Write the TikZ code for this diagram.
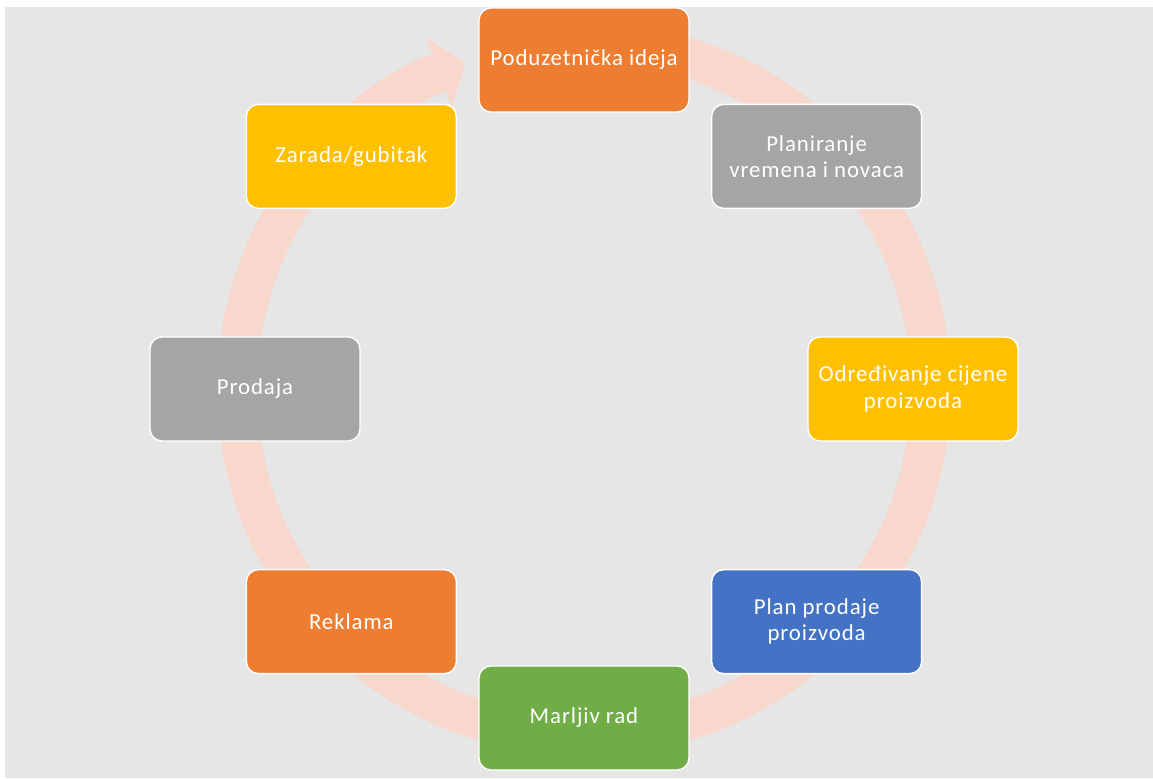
\documentclass[tikz,border=0pt]{standalone}
\usepackage{fontspec}
\setmainfont{Carlito}[LetterSpace=4]
\usetikzlibrary{arrows.meta}
\definecolor{bgGrey}{HTML}{E6E6E6}
\definecolor{cycleArc}{HTML}{F8D7CC}
\definecolor{accOrange}{HTML}{ED7D31}
\definecolor{accGrey}{HTML}{A5A5A5}
\definecolor{accYellow}{HTML}{FFC000}
\definecolor{accBlue}{HTML}{4472C4}
\definecolor{accGreen}{HTML}{70AD47}
\tikzset{
  stagebox/.style={draw=white,line width=0.8pt,rounded corners=0.24cm,
    minimum width=4.2cm,minimum height=2.08cm,text=white,align=center,
    font=\fontsize{13}{15}\selectfont}
}

\begin{document}
\begin{tikzpicture}[x=0.02cm,y=0.02cm]
  \useasboundingbox (-584,-389) rectangle (569,389);
  \fill[white] (-584,-389) rectangle (569,389);
  \fill[bgGrey] (-579,-389) rectangle (569,382);
  % cycle arrow behind the stages (radius 347, ends pointing at the first stage)
  \draw[cycleArc,line width=0.8cm,-{Triangle[width=1.46cm,length=0.56cm]}]
    (75:347) arc[start angle=75,end angle=-250,radius=347];
  % stages, clockwise from the top
  \node[stagebox,fill=accOrange] (ideja)   at (90:329)   {Poduzetnička ideja};
  \node[stagebox,fill=accGrey]   (plan)    at (45:329)   {Planiranje\\vremena i novaca};
  \node[stagebox,fill=accYellow] (cijena)  at (0:329)    {Određivanje cijene\\proizvoda};
  \node[stagebox,fill=accBlue]   (prodplan) at (-45:329) {Plan prodaje\\proizvoda};
  \node[stagebox,fill=accGreen]  (rad)     at (-90:329)  {Marljiv rad};
  \node[stagebox,fill=accOrange] (reklama) at (-135:329) {Reklama};
  \node[stagebox,fill=accGrey]   (prodaja) at (180:329)  {Prodaja};
  \node[stagebox,fill=accYellow] (zarada)  at (135:329)  {Zarada/gubitak};
\end{tikzpicture}
\end{document}
